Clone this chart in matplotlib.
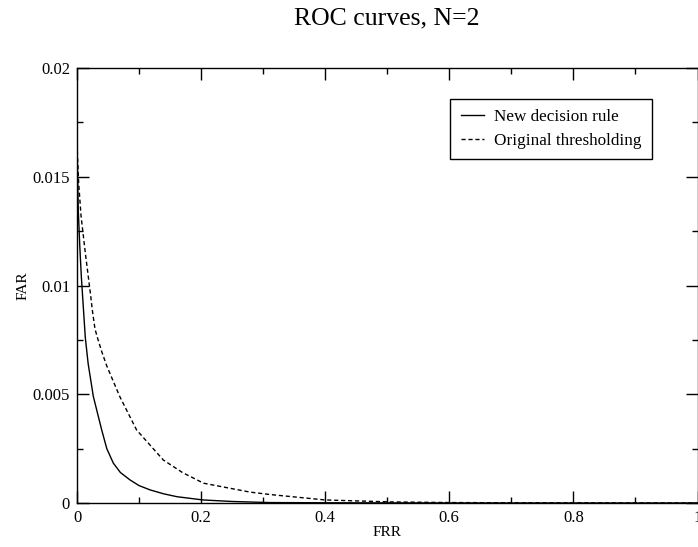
import matplotlib
matplotlib.use("Agg")
import matplotlib.pyplot as plt
from matplotlib.ticker import MultipleLocator

plt.rcParams['font.family'] = ['Liberation Serif', 'DejaVu Serif']

# values
frr_new = [0, 0.002, 0.0045, 0.007, 0.0134, 0.018, 0.0263, 0.0398, 0.048, 0.0586, 0.07,
           0.0855, 0.10, 0.118, 0.14, 0.161, 0.203, 0.25, 0.31, 0.4, 0.5, 0.7, 1.0]
far_new = [0.0165, 0.0135, 0.0118, 0.0104, 0.0076, 0.0064, 0.0049, 0.00336, 0.0025, 0.00183, 0.0014,
           0.00106, 0.0008, 0.0006, 0.00042, 0.00029, 0.00014, 0.00007, 0.00002, 0.00001, 0.000005,
           0.0, 0.0]

frr_orig = [0, 0.0027, 0.0065, 0.0134, 0.0215, 0.025, 0.029, 0.034, 0.040, 0.048, 0.069,
            0.096, 0.139, 0.17, 0.204, 0.279, 0.311, 0.4, 0.505, 0.6, 0.7, 1.0]
far_orig = [0.0165, 0.0147, 0.0132, 0.0115, 0.00966, 0.0088, 0.0080, 0.0075, 0.00695, 0.0063, 0.00489,
            0.00336, 0.00198, 0.0014, 0.00091, 0.0005, 0.00039, 0.00014, 0.00005, 0.00002, 0.00001, 0.0]

fig = plt.figure(figsize=(6.98, 5.47), dpi=100)
ax = fig.add_axes([77 / 698, 44 / 547, 620.5 / 698, 435 / 547])

ax.plot(frr_new, far_new, color='black', lw=1.0, label='New decision rule')
ax.plot(frr_orig, far_orig, color='black', lw=1.0, linestyle=(0, (3, 2)),
        label='Original thresholding')

ax.set_xlim(0, 1)
ax.set_ylim(0, 0.02)
ax.xaxis.set_minor_locator(MultipleLocator(0.1))
ax.yaxis.set_minor_locator(MultipleLocator(0.0025))
ax.set_xticks([0, 0.2, 0.4, 0.6, 0.8, 1.0])
ax.set_xticklabels(['0', '0.2', '0.4', '0.6', '0.8', '1'])
ax.set_yticks([0, 0.005, 0.01, 0.015, 0.02])
ax.set_yticklabels(['0', '0.005', '0.01', '0.015', '0.02'])

ax.tick_params(which='both', direction='in', top=True, right=True, width=1.0, labelsize=12)
ax.tick_params(which='major', length=8.6, pad=5)
ax.tick_params(which='minor', length=4.3)
for s in ax.spines.values():
    s.set_linewidth(1.0)

ax.set_xlabel('FRR', fontsize=11, labelpad=0)
ax.set_ylabel('FAR', fontsize=11, labelpad=2)
ax.set_title('ROC curves, N=2', fontsize=18.5, pad=31)

leg = ax.legend(loc='upper left', bbox_to_anchor=((450 - 77) / 620, (503 - 99) / 435),
                borderaxespad=0, fontsize=12.3, fancybox=False, framealpha=1,
                edgecolor='black', handlelength=1.4, handletextpad=0.55,
                borderpad=0.6, labelspacing=0.45)
leg.get_frame().set_linewidth(1.0)

plt.savefig('out.png', dpi=100)
